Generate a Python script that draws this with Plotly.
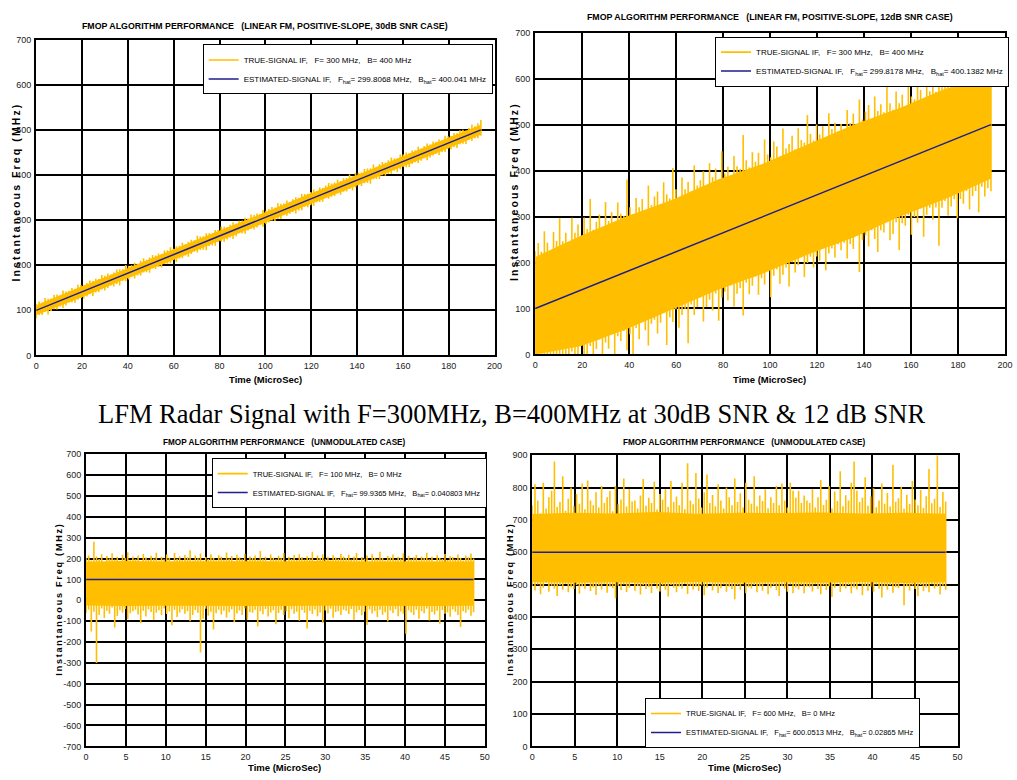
import numpy as np
import plotly.graph_objects as go

# ---------------- data ----------------
# Panel 1: linear FM, 30 dB SNR
lfm30_F, lfm30_B = 300, 400
lfm30_Fhat, lfm30_Bhat = 299.8068, 400.041
lfm30_T = 194.0
# measured IF excursions above / below the true IF law (MHz)
lfm30_dev_hi = [14, 17, 12, 19, 15, 13, 18, 16, 12, 20, 15, 14, 17, 13, 19, 16, 12, 15, 18, 14,
                16, 13, 19, 15, 17, 12, 14, 18, 16, 13, 20, 15, 14, 17, 12, 16, 19, 13, 15, 18,
                14, 16, 12, 17, 15, 19, 13, 16, 14, 18, 12, 15, 17, 13, 20, 16, 14, 18, 15, 12,
                17, 14, 19, 16, 13, 15, 18, 12, 16, 14, 17, 13, 19, 15, 16, 12, 18, 14, 15, 17,
                13, 20, 16, 14, 18, 12, 15, 17, 13, 19, 16, 14, 15, 18, 12, 17, 14, 16, 19, 15,
                15, 18, 13, 16, 14, 19, 12, 17, 15, 13, 18, 16, 14, 20, 12, 15, 17, 13, 16, 19,
                14, 12, 18, 15, 17, 13, 16, 14, 19, 12, 15, 18, 13, 17, 14, 16, 12, 19, 15, 13,
                17, 14, 18, 16, 12, 15, 20, 13, 17, 22]
lfm30_dev_lo = [-18, -13, -16, -12, -20, -15, -14, -17, -13, -19, -16, -12, -15, -18, -14, -13, -17, -15, -12, -19,
                -14, -16, -13, -18, -15, -12, -17, -14, -20, -13, -16, -15, -12, -18, -14, -17, -13, -15, -19, -12,
                -16, -14, -18, -13, -15, -17, -12, -19, -14, -16, -13, -18, -15, -12, -17, -14, -16, -20, -13, -15,
                -18, -12, -14, -17, -15, -13, -19, -16, -12, -15, -18, -14, -13, -17, -15, -12, -19, -16, -14, -13,
                -17, -15, -18, -12, -16, -14, -13, -19, -15, -17, -12, -16, -14, -18, -13, -15, -17, -12, -16, -14,
                -15, -12, -18, -14, -16, -13, -19, -15, -12, -17, -14, -16, -20, -13, -15, -18, -12, -16, -14, -17,
                -13, -19, -15, -12, -16, -18, -14, -13, -17, -15, -12, -19, -16, -14, -13, -18, -15, -17, -12, -16,
                -14, -19, -13, -15, -18, -12, -17, -14, -16, -13]
lfm30_core_hi = [11, 12, 11, 12, 12, 11, 12, 11, 12, 12, 11]
lfm30_core_lo = [-11, -12, -11, -12, -11, -12, -11, -12, -11, -12, -11]

# Panel 2: linear FM, 12 dB SNR
lfm12_F, lfm12_B = 300, 400
lfm12_Fhat, lfm12_Bhat = 299.8178, 400.1382
lfm12_T = 194.0
lfm12_dev_hi = [125, 140, 118, 160, 132, 110, 150, 128, 175, 122, 138, 115, 165, 130, 145, 112, 155, 127, 190, 120,
                135, 148, 116, 170, 126, 142, 113, 158, 131, 124, 200, 137, 119, 152, 129, 144, 111, 168, 123, 139,
                147, 117, 162, 133, 121, 185, 136, 114, 156, 128, 141, 118, 172, 125, 134, 151, 112, 163, 130, 146,
                120, 178, 127, 139, 115, 157, 132, 124, 195, 137, 119, 149, 126, 143, 113, 166, 131, 122, 154, 140,
                116, 174, 128, 135, 150, 118, 161, 133, 125, 182, 138, 121, 153, 129, 144, 114, 167, 130, 141, 120,
                133, 119, 158, 127, 145, 112, 170, 124, 138, 150, 116, 163, 129, 141, 121, 180, 135, 118, 155, 127,
                143, 113, 168, 131, 122, 149, 137, 117, 160, 126, 144, 120, 176, 133, 124, 152, 139, 115, 165, 128,
                146, 119, 158, 134, 123, 188, 130, 142, 117, 150]
lfm12_dev_lo = [-135, -150, -122, -170, -140, -128, -160, -118, -185, -145, -132, -215, -126, -155, -138, -120, -175, -148, -130, -200,
                -142, -124, -165, -136, -152, -119, -190, -133, -146, -127, -172, -139, -225, -131, -158, -123, -144, -180, -135, -129,
                -162, -141, -120, -195, -137, -150, -125, -168, -143, -132, -210, -128, -154, -139, -121, -176, -147, -134, -160, -126,
                -188, -140, -130, -152, -122, -170, -145, -136, -198, -129, -157, -141, -124, -166, -133, -149, -120, -182, -138, -127,
                -161, -144, -131, -175, -125, -150, -137, -122, -168, -140, -129, -155, -134, -146, -121, -172, -138, -130, -152, -126,
                -142, -128, -165, -136, -150, -122, -205, -139, -131, -158, -125, -147, -178, -133, -141, -120, -163, -152, -129, -192,
                -137, -145, -124, -170, -134, -149, -121, -185, -140, -127, -156, -132, -218, -138, -126, -160, -143, -130, -174, -135,
                -148, -123, -166, -139, -131, -180, -127, -151, -136, -145]
lfm12_core_hi = [112, 118, 120, 116, 120, 115, 118, 120, 116, 118, 112]
lfm12_core_lo = [-118, -122, -125, -122, -120, -124, -122, -125, -120, -122, -118]
lfm12_clip = (0, 600)

# Panel 3: unmodulated, F = 100 MHz
cw100_F, cw100_B = 100, 0
cw100_Fhat, cw100_Bhat = 99.9365, 0.040803
cw100_T = 48.6
cw100_hi = [205, 215, 190, 280, 210, 198, 220, 185, 212, 200, 225, 195, 208, 188, 218, 202, 230, 192, 210, 197,
            215, 186, 222, 205, 194, 213, 200, 228, 190, 209, 196, 219, 204, 187, 226, 199, 211, 193, 217, 206,
            240, 191, 214, 201, 224, 189, 207, 198, 220, 203, 192, 216, 208, 195, 229, 200, 212, 188, 218, 205,
            197, 223, 190, 210, 202, 215, 194, 236, 199, 208, 187, 219, 204, 196, 213, 201, 226, 190, 209, 198,
            217, 193, 221, 206, 195, 211, 200, 232, 189, 214, 203, 220, 197, 208, 192, 216, 205, 199, 222, 210,
            203, 218, 195, 210, 226, 191, 207, 199, 215, 188, 221, 204, 196, 233, 202, 190, 212, 205, 219, 194,
            208, 200, 225, 189, 213, 197, 206, 217, 192, 210, 201, 228, 196, 209, 187, 216, 204, 198, 222, 193,
            211, 207, 195, 219, 202, 190, 214, 206, 224, 200]
cw100_lo = [-60, -45, -150, -55, -300, -70, -40, -85, -50, -65, -35, -130, -75, -48, -58, -42, -90, -62, -52, -45,
            -68, -110, -50, -78, -44, -56, -95, -60, -48, -72, -40, -66, -54, -120, -46, -80, -58, -43, -64, -52,
            -100, -70, -47, -60, -250, -88, -41, -74, -55, -140, -62, -45, -68, -50, -82, -57, -44, -105, -63, -49,
            -71, -40, -92, -56, -60, -46, -125, -53, -67, -42, -78, -59, -48, -115, -61, -45, -70, -52, -86, -43,
            -64, -55, -98, -47, -60, -135, -50, -66, -44, -76, -58, -108, -49, -62, -41, -84, -56, -53, -70, -45,
            -50, -66, -42, -95, -58, -47, -72, -55, -118, -44, -63, -51, -80, -46, -69, -57, -102, -49, -61, -43,
            -76, -54, -65, -160, -48, -59, -71, -45, -88, -53, -62, -41, -97, -56, -68, -50, -112, -47, -64, -58,
            -79, -44, -55, -70, -128, -52, -60, -46, -74, -57]
cw100_core_hi = [185, 188, 186, 188, 187, 186, 188, 186, 187, 188, 186]
cw100_core_lo = [-25, -28, -26, -27, -25, -28, -26, -27, -25, -27, -26]

# Panel 4: unmodulated, F = 600 MHz
cw600_F, cw600_B = 600, 0
cw600_Fhat, cw600_Bhat = 600.0513, 0.02865
cw600_T = 48.6
cw600_hi = [745, 810, 760, 720, 815, 735, 770, 790, 880, 740, 755, 835, 728, 765, 800, 742, 780, 750, 812, 733,
            822, 760, 745, 785, 738, 805, 752, 770, 790, 727, 805, 748, 763, 828, 741, 795, 757, 760, 735, 775,
            826, 744, 768, 752, 818, 732, 780, 762, 795, 740, 820, 755, 772, 745, 815, 733, 875, 760, 748, 845,
            766, 738, 785, 840, 752, 777, 742, 810, 760, 735, 800, 770, 745, 828, 755, 782, 738, 815, 762, 750,
            835, 742, 775, 758, 795, 736, 770, 752, 805, 745, 812, 760, 738, 815, 790, 768, 790, 752, 775, 760,
            752, 795, 738, 770, 823, 746, 762, 805, 735, 788, 758, 850, 742, 776, 760, 815, 880, 790, 755, 768,
            832, 744, 772, 798, 739, 760, 812, 750, 783, 741, 870, 756, 767, 802, 734, 778, 749, 820, 763, 745,
            792, 737, 773, 857, 751, 765, 900, 740, 786, 757]
cw600_lo = [495, 482, 500, 470, 490, 505, 478, 496, 488, 465, 498, 484, 502, 476, 492, 486, 499, 472, 494, 487,
            503, 480, 491, 468, 497, 485, 501, 475, 493, 489, 458, 496, 483, 500, 477, 490, 504, 481, 495, 469,
            498, 486, 492, 474, 501, 488, 479, 497, 484, 463, 499, 490, 476, 494, 487, 502, 471, 496, 485, 493,
            480, 498, 467, 491, 503, 482, 495, 474, 489, 500, 478, 493, 486, 455, 497, 484, 501, 473, 492, 488,
            499, 476, 494, 481, 502, 470, 490, 497, 483, 465, 495, 488, 478, 500, 473, 491, 485, 498, 473, 494,
            492, 479, 501, 486, 470, 497, 483, 495, 462, 490, 503, 477, 494, 488, 499, 473, 491, 485, 502, 467,
            496, 481, 493, 478, 500, 487, 460, 495, 484, 498, 475, 492, 489, 503, 436, 494, 482, 497, 486, 464,
            499, 480, 491, 476, 501, 488, 493, 469, 496, 484]
cw600_core_hi = [718, 722, 720, 724, 719, 722, 721, 723, 720, 722, 719]
cw600_core_lo = [508, 506, 507, 505, 508, 506, 507, 506, 508, 505, 507]

# axis ticks
lfm_xticks = list(range(0, 201, 20))
lfm_yticks = list(range(0, 701, 100))
cw_xticks = list(range(0, 51, 5))
cw100_yticks = list(range(-700, 701, 100))
cw600_yticks = list(range(0, 901, 100))

# ---------------- styling ----------------
W, H = 1017, 780
YEL = "#FFBF00"
BLU = "#1E1E8C"
SANS = "Liberation Sans Narrow, Liberation Sans, Arial, sans-serif"
SP = "\u00a0"


def px_x(p):
    return p / W


def px_y(p):
    return 1 - p / H


def linear_if(F, B, T, t):
    return F - B / 2 + B * np.asarray(t, float) / T


fig = go.Figure()


def add_panel(idx, T, hi, lo, core_hi, core_lo, F, B, Fhat, Bhat, legend_name, clip=None):
    xa = "x" if idx == 1 else f"x{idx}"
    ya = "y" if idx == 1 else f"y{idx}"
    hi = np.asarray(hi, float)
    lo = np.asarray(lo, float)
    core_hi = np.asarray(core_hi, float)
    core_lo = np.asarray(core_lo, float)
    if clip is not None:
        hi, lo = np.clip(hi, *clip), np.clip(lo, *clip)
        core_hi, core_lo = np.clip(core_hi, *clip), np.clip(core_lo, *clip)
    t_core = np.linspace(0, T, len(core_hi))
    # dense core of the noisy IF
    fig.add_trace(go.Scatter(x=t_core, y=core_lo, mode="lines", line=dict(color=YEL, width=0),
                             xaxis=xa, yaxis=ya, showlegend=False, hoverinfo="skip"))
    fig.add_trace(go.Scatter(x=t_core, y=core_hi, mode="lines", line=dict(color=YEL, width=0),
                             fill="tonexty", fillcolor=YEL,
                             xaxis=xa, yaxis=ya, showlegend=False, hoverinfo="skip"))
    # per-sample excursions of the measured IF, drawn as vertical strokes
    n = len(hi)
    t = np.linspace(0, T, n)
    xs = np.column_stack([t, t, np.full(n, np.nan)]).ravel()
    ys = np.column_stack([lo, hi, np.full(n, np.nan)]).ravel()
    fig.add_trace(go.Scatter(
        x=xs, y=ys, mode="lines", line=dict(color=YEL, width=1.6), connectgaps=False,
        xaxis=xa, yaxis=ya, legend=legend_name,
        name=f"TRUE-SIGNAL IF,{SP*3}F= {F} MHz,{SP*3}B= {B} MHz"))
    # estimated IF law
    t_est = np.array([0.0, T])
    fig.add_trace(go.Scatter(
        x=t_est, y=linear_if(Fhat, Bhat, T, t_est), mode="lines",
        line=dict(color=BLU, width=1.5), xaxis=xa, yaxis=ya, legend=legend_name,
        name=(f"ESTIMATED-SIGNAL IF,{SP*3}F<sub>hat</sub>= {Fhat} MHz,"
              f"{SP*3}B<sub>hat</sub>= {Bhat} MHz")))


def lfm_abs(F, B, T, dev):
    return linear_if(F, B, T, np.linspace(0, T, len(dev))) + np.asarray(dev, float)


add_panel(1, lfm30_T,
          lfm_abs(lfm30_F, lfm30_B, lfm30_T, lfm30_dev_hi),
          lfm_abs(lfm30_F, lfm30_B, lfm30_T, lfm30_dev_lo),
          lfm_abs(lfm30_F, lfm30_B, lfm30_T, lfm30_core_hi),
          lfm_abs(lfm30_F, lfm30_B, lfm30_T, lfm30_core_lo),
          lfm30_F, lfm30_B, lfm30_Fhat, lfm30_Bhat, "legend")

add_panel(2, lfm12_T,
          lfm_abs(lfm12_F, lfm12_B, lfm12_T, lfm12_dev_hi),
          lfm_abs(lfm12_F, lfm12_B, lfm12_T, lfm12_dev_lo),
          lfm_abs(lfm12_F, lfm12_B, lfm12_T, lfm12_core_hi),
          lfm_abs(lfm12_F, lfm12_B, lfm12_T, lfm12_core_lo),
          lfm12_F, lfm12_B, lfm12_Fhat, lfm12_Bhat, "legend2", clip=lfm12_clip)

add_panel(3, cw100_T, cw100_hi, cw100_lo, cw100_core_hi, cw100_core_lo,
          cw100_F, cw100_B, cw100_Fhat, cw100_Bhat, "legend3")
add_panel(4, cw600_T, cw600_hi, cw600_lo, cw600_core_hi, cw600_core_lo,
          cw600_F, cw600_B, cw600_Fhat, cw600_Bhat, "legend4")

# ---------------- axes ----------------
panels = {
    1: dict(x=(33.5, 497), y=(35, 355), xr=[0, 200], yr=[0, 700], xt=lfm_xticks, yt=lfm_yticks),
    2: dict(x=(538, 1013), y=(28, 354), xr=[0, 200], yr=[0, 700], xt=lfm_xticks, yt=lfm_yticks),
    3: dict(x=(84, 487), y=(455, 751), xr=[0, 50], yr=[-700, 700], xt=cw_xticks, yt=cw100_yticks),
    4: dict(x=(535, 965), y=(456, 751), xr=[0, 50], yr=[0, 900], xt=cw_xticks, yt=cw600_yticks),
}

axis_common = dict(showgrid=True, gridcolor="black", gridwidth=2, showline=True,
                   linecolor="black", linewidth=2, mirror=True, zeroline=False,
                   ticks="", tickfont=dict(family=SANS, size=9, color="#222"))

layout_axes = {}
for i, p in panels.items():
    xk = "xaxis" if i == 1 else f"xaxis{i}"
    yk = "yaxis" if i == 1 else f"yaxis{i}"
    layout_axes[xk] = dict(axis_common, domain=[px_x(p["x"][0]), px_x(p["x"][1])],
                           range=p["xr"], tickvals=p["xt"], ticktext=[str(v) for v in p["xt"]],
                           anchor="y" if i == 1 else f"y{i}", ticklabelstandoff=1)
    layout_axes[yk] = dict(axis_common, domain=[px_y(p["y"][1]), px_y(p["y"][0])],
                           range=p["yr"], tickvals=p["yt"], ticktext=[str(v) for v in p["yt"]],
                           anchor="x" if i == 1 else f"x{i}", ticklabelstandoff=1)

fig.update_layout(**layout_axes)

# ---------------- legends ----------------
legend_common = dict(bgcolor="white", bordercolor="black", borderwidth=1,
                     xanchor="right", yanchor="top", tracegroupgap=0, itemwidth=30,
                     traceorder="normal", xref="paper", yref="paper")
fig.update_layout(
    legend=dict(legend_common, x=px_x(495), y=px_y(40), font=dict(family=SANS, size=8, color="black")),
    legend2=dict(legend_common, x=1.0, y=px_y(32), font=dict(family=SANS, size=8, color="black")),
    legend3=dict(legend_common, x=px_x(489), y=px_y(459), font=dict(family=SANS, size=7.5, color="black")),
    legend4=dict(legend_common, x=px_x(927), y=px_y(702), font=dict(family=SANS, size=7.5, color="black")),
)

# ---------------- text ----------------
annos = []


def text(x, y, s, size, bold=True, angle=0, family=SANS, color="black"):
    annos.append(dict(x=px_x(x), y=px_y(y), xref="paper", yref="paper", text=(f"<b>{s}</b>" if bold else s),
                      showarrow=False, textangle=angle, xanchor="center", yanchor="middle",
                      font=dict(family=family, size=size, color=color)))


text(265, 21, f"FMOP ALGORITHM PERFORMANCE{SP*3}(LINEAR FM, POSITIVE-SLOPE, 30dB SNR CASE)", 8.8)
text(775, 12, f"FMOP ALGORITHM PERFORMANCE{SP*3}(LINEAR FM, POSITIVE-SLOPE, 12dB SNR CASE)", 8.8)
text(285, 443, f"FMOP ALGORITHM PERFORMANCE{SP*3}(UNMODULATED CASE)", 8.2)
text(750, 443, f"FMOP ALGORITHM PERFORMANCE{SP*3}(UNMODULATED CASE)", 8.2)

text(265, 379, "Time (MicroSec)", 9.5)
text(775, 379, "Time (MicroSec)", 9.5)
text(285, 772, "Time (MicroSec)", 9.5)
text(750, 772, "Time (MicroSec)", 9.5)

ylab = "\u2009".join("Instantaneous Freq (MHz)")
text(13, 190, ylab, 10.5, angle=-90)
text(516, 190, ylab, 10.5, angle=-90)
text(57, 603, ylab, 9, angle=-90)
text(513, 603, ylab, 9, angle=-90)

text(514, 414, "LFM Radar Signal with F=300MHz, B=400MHz at 30dB SNR &amp; 12 dB SNR", 26.5, bold=False,
     family="Liberation Serif, Times New Roman, serif")

fig.update_layout(annotations=annos, width=W, height=H, margin=dict(l=0, r=0, t=0, b=0),
                  paper_bgcolor="white", plot_bgcolor="white", showlegend=True)

fig.write_html("out.html")
